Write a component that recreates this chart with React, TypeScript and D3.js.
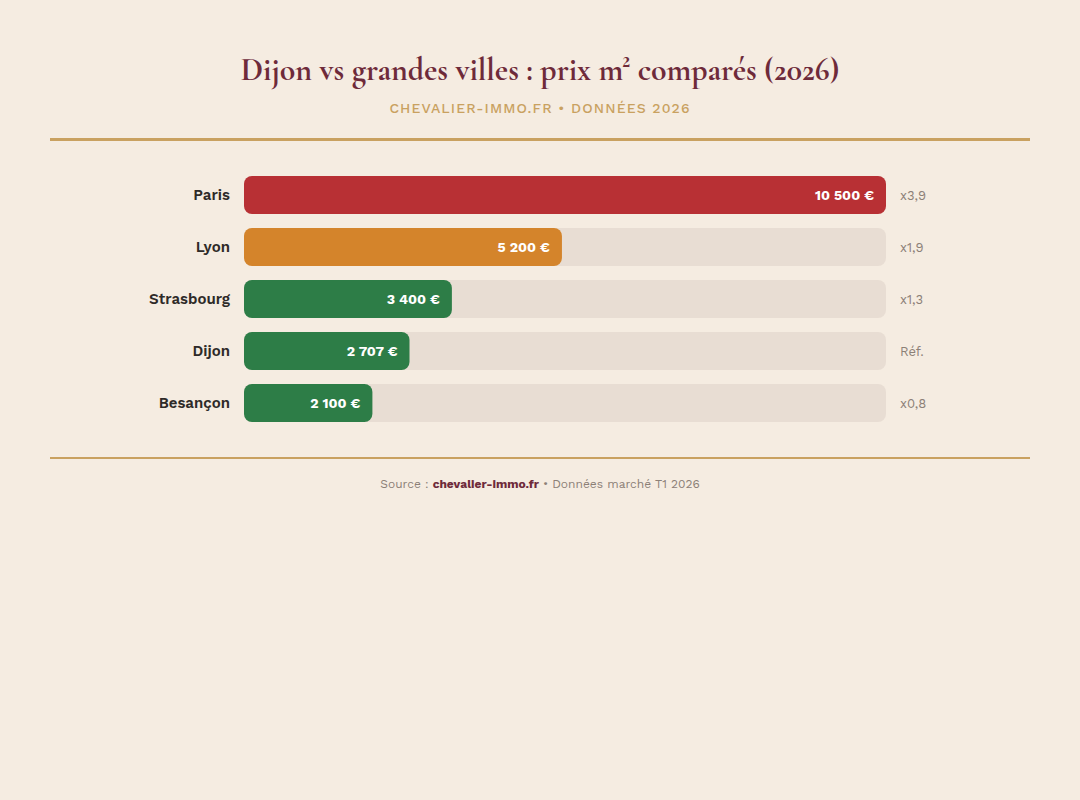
import React, { useEffect, useRef } from 'react';
import * as d3 from 'd3';

const cities = ['Paris', 'Lyon', 'Strasbourg', 'Dijon', 'Besançon'];
const prices = [10500, 5200, 3400, 2707, 2100];
const ratios = ['x3,9', 'x1,9', 'x1,3', 'Réf.', 'x0,8'];
const barColors = ['#b83034', '#d4842b', '#2d7d47', '#2d7d47', '#2d7d47'];

const W = 1080;
const H = 800;
const SANS = "'Work Sans', Inter, 'Noto Sans', sans-serif";
const SERIF = "'Cormorant Garamond', 'Liberation Serif', 'DejaVu Serif', serif";

const fmt = (v: number) => d3.format(',')(v).replace(/,/g, ' ') + ' €';

export default function App() {
  const svgRef = useRef<SVGSVGElement>(null);

  useEffect(() => {
    document.body.style.margin = '0';
    if (!svgRef.current) return;
    const svg = d3.select(svgRef.current);
    svg.selectAll('*').remove();

    svg.append('rect').attr('width', W).attr('height', H).attr('fill', '#f5ece1');

    // Header
    svg.append('text')
      .attr('x', W / 2).attr('y', 80)
      .attr('text-anchor', 'middle')
      .attr('font-family', SERIF)
      .attr('font-size', 31.8)
      .attr('font-weight', 700)
      .attr('fill', '#6e2a3a')
      .text('Dijon vs grandes villes : prix m² comparés (2026)');

    svg.append('text')
      .attr('x', W / 2).attr('y', 113)
      .attr('text-anchor', 'middle')
      .attr('font-family', SANS)
      .attr('font-size', 14)
      .attr('font-weight', 500)
      .attr('letter-spacing', 1.1)
      .attr('fill', '#c9a160')
      .text('CHEVALIER-IMMO.FR • DONNÉES 2026');

    svg.append('rect').attr('x', 50).attr('y', 138).attr('width', 980).attr('height', 3).attr('fill', '#c9a160');

    // Bars
    const x = d3.scaleLinear().domain([0, d3.max(prices) as number]).range([244, 886]);
    const y = d3.scaleBand<string>().domain(cities).range([169, 429]).paddingInner(14 / 52).paddingOuter(7 / 52);

    const rows = svg.append('g').selectAll('g')
      .data(cities)
      .join('g')
      .attr('transform', d => `translate(0,${y(d)})`);

    const bh = y.bandwidth();

    rows.append('rect')
      .attr('x', x(0)).attr('width', x.range()[1] - x(0))
      .attr('height', bh).attr('rx', 8)
      .attr('fill', '#e8ddd3');

    rows.append('rect')
      .attr('x', x(0))
      .attr('width', (_, i) => x(prices[i]) - x(0))
      .attr('height', bh).attr('rx', 8)
      .attr('fill', (_, i) => barColors[i]);

    rows.append('text')
      .attr('x', 230).attr('y', bh / 2).attr('dy', '0.35em')
      .attr('text-anchor', 'end')
      .attr('font-family', SANS).attr('font-size', 15).attr('font-weight', 600)
      .attr('fill', '#2e2a28')
      .text(d => d);

    rows.append('text')
      .attr('x', (_, i) => x(prices[i]) - 12).attr('y', bh / 2).attr('dy', '0.35em')
      .attr('text-anchor', 'end')
      .attr('font-family', SANS).attr('font-size', 14).attr('font-weight', 700)
      .attr('fill', '#ffffff')
      .text((_, i) => fmt(prices[i]));

    rows.append('text')
      .attr('x', 900).attr('y', bh / 2).attr('dy', '0.35em')
      .attr('font-family', SANS).attr('font-size', 13)
      .attr('fill', '#8c8077')
      .text((_, i) => ratios[i]);

    // Footer
    svg.append('rect').attr('x', 50).attr('y', 457).attr('width', 980).attr('height', 2).attr('fill', '#c9a160');

    const foot = svg.append('text')
      .attr('x', W / 2).attr('y', 488)
      .attr('text-anchor', 'middle')
      .attr('font-family', SANS).attr('font-size', 12)
      .attr('fill', '#8c8077');
    foot.append('tspan').text('Source : ');
    foot.append('tspan').attr('font-weight', 700).attr('fill', '#6e2a3a').text('chevalier-immo.fr');
    foot.append('tspan').text(' • Données marché T1 2026');
  }, []);

  return <svg ref={svgRef} width={W} height={H} style={{ display: 'block' }} />;
}
